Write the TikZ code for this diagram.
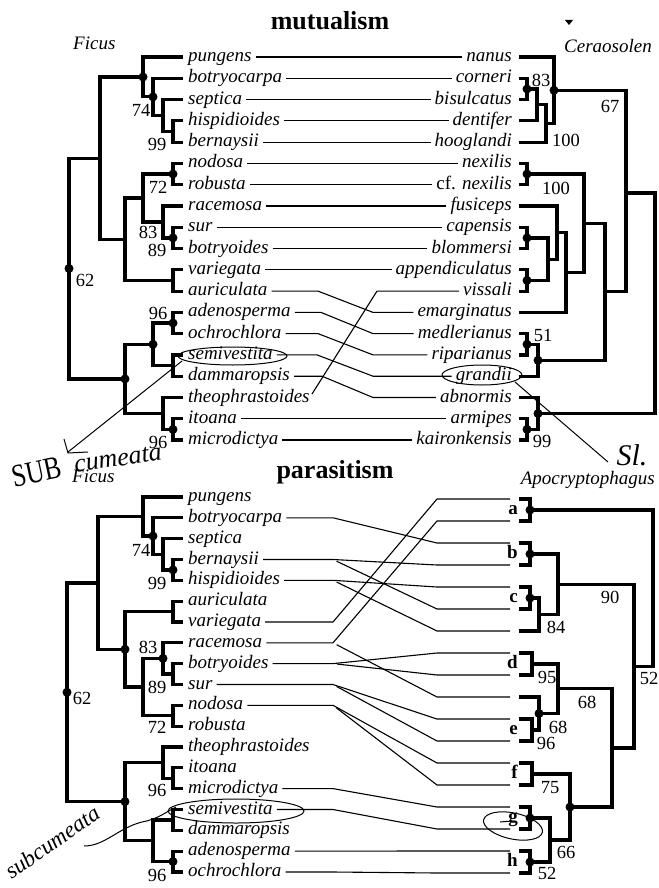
\documentclass[tikz,border=0pt]{standalone}
\usepackage{fontspec}
\setmainfont{Liberation Serif}
\newcommand{\cfnex}{\textup{cf.} nexilis}
\begin{document}
\begin{tikzpicture}[x=1pt,y=-1pt,
  taxon/.style={font=\fontsize{19}{21}\selectfont\itshape, inner sep=0pt, text height=9pt, text depth=0pt},
  lt/.style={taxon, anchor=west},
  rt/.style={taxon, anchor=east},
  bsv/.style={font=\fontsize{18.5}{20}\selectfont, inner sep=0pt, text height=12.5pt, text depth=0pt, anchor=center},
  branch/.style={line width=3.2pt, line join=miter},
  assoc/.style={line width=1.1pt, shorten <=4pt},
  hand/.style={line width=1pt},
  htext/.style={font=\fontsize{26}{28}\selectfont\itshape, inner sep=0pt},
  ttl/.style={font=\fontsize{26}{28}\selectfont\bfseries, anchor=base, inner sep=0pt},
  genus/.style={font=\fontsize{19}{21}\selectfont\itshape, inner sep=0pt},
  clade/.style={font=\fontsize{19}{21}\selectfont\bfseries, inner sep=0pt, anchor=east, text height=9pt, text depth=0pt}
]
\useasboundingbox (0,0) rectangle (658,888);

% ---------------- titles and genera ----------------
\node[ttl] (t1) at (330,30) {mutualism};
\node[ttl] (t2) at (335,478) {parasitism};
\node[genus, anchor=base west] (g1) at (73,50) {Ficus};
\node[genus, anchor=base east] (g2) at (652,53) {Ceraosolen};
\node[genus, anchor=base west] (g3) at (72,482) {Ficus};
\node[genus, anchor=base east] (g4) at (655,484) {Apocryptophagus};
\fill (565,20) -- (573,20) -- (569,25) -- cycle;

% ---------------- mutualism: Ficus ----------------
\foreach \i/\y/\t in {1/57.0/pungens,2/78.3/botryocarpa,3/99.6/septica,4/120.8/hispidioides,5/142.1/bernaysii,6/163.4/nodosa,7/184.7/robusta,8/206.0/racemosa,9/227.2/sur,10/248.5/botryoides,11/269.8/variegata,12/291.1/auriculata,13/312.4/adenosperma,14/333.6/ochrochlora,15/354.9/semivestita,16/376.2/dammaropsis,17/397.5/theophrastoides,18/418.8/itoana,19/440.0/microdictya}
{ \coordinate (ta\i) at (183,\y); \node[lt] (La\i) at (188,\y) {\t}; }

\coordinate (nHB) at (173,131.5);
\coordinate (nSe) at (163,115.5);
\coordinate (nBo) at (153,96.9);
\coordinate (nPu) at (143,77.0);
\coordinate (nNR) at (173,174.0);
\coordinate (nSB) at (173,237.9);
\coordinate (nRa) at (163,222.0);
\coordinate (nNRRa) at (143,198.0);
\coordinate (nVA) at (173,280.4);
\coordinate (nM1) at (125,239.2);
\coordinate (nA1) at (100,158.1);
\coordinate (nAO) at (173,323.0);
\coordinate (nSD) at (173,365.5);
\coordinate (nAS) at (153,344.3);
\coordinate (nIM) at (173,429.4);
\coordinate (nTh) at (163,413.5);
\coordinate (nB1) at (125,378.9);
\coordinate (nRoot) at (69,268.5);

\draw[branch] (nHB) |- (ta4) (nHB) |- (ta5)
  (nSe) |- (ta3) (nSe) |- (nHB)
  (nBo) |- (ta2) (nBo) |- (nSe)
  (nPu) |- (ta1) (nPu) |- (nBo)
  (nA1) |- (nPu) (nA1) |- (nM1)
  (nM1) |- (nNRRa) (nM1) |- (nVA)
  (nNRRa) |- (nNR) (nNRRa) |- (nRa)
  (nNR) |- (ta6) (nNR) |- (ta7)
  (nRa) |- (ta8) (nRa) |- (nSB)
  (nSB) |- (ta9) (nSB) |- (ta10)
  (nVA) |- (ta11) (nVA) |- (ta12)
  (nRoot) |- (nA1) (nRoot) |- (nB1)
  (nB1) |- (nAS) (nB1) |- (nTh)
  (nAS) |- (nAO) (nAS) |- (nSD)
  (nAO) |- (ta13) (nAO) |- (ta14)
  (nSD) |- (ta15) (nSD) |- (ta16)
  (nTh) |- (ta17) (nTh) |- (nIM)
  (nIM) |- (ta18) (nIM) |- (ta19);
\foreach \n in {nPu,nBo,nNR,nSB,nRoot,nAO,nAS,nB1,nIM} \fill (\n) circle[radius=4.5pt];

\node[bsv] (sa1) at (141,110) {74};
\node[bsv] (sa2) at (157,144) {99};
\node[bsv] (sa3) at (158,187) {72};
\node[bsv] (sa4) at (148,232) {83};
\node[bsv] (sa5) at (157,250) {89};
\node[bsv] (sa6) at (85,280) {62};
\node[bsv] (sa7) at (158,313) {96};
\node[bsv] (sa8) at (158,442) {96};

% ---------------- mutualism: Ceratosolen ----------------
\foreach \i/\y/\t in {1/57.0/nanus,2/78.3/corneri,3/99.6/bisulcatus,4/120.8/dentifer,5/142.1/hooglandi,6/163.4/nexilis,7/184.7/\cfnex,8/206.0/fusiceps,9/227.2/capensis,10/248.5/blommersi,11/269.8/appendiculatus,12/291.1/vissali,13/312.4/emarginatus,14/333.6/medlerianus,15/354.9/riparianus,16/376.2/grandii,17/397.5/abnormis,18/418.8/armipes,19/440.0/kaironkensis}
{ \coordinate (tb\i) at (519,\y); \node[rt] (Rb\i) at (512,\y) {\t}; }

\coordinate (rCB) at (527,89.0);
\coordinate (rCBD) at (537,104.9);
\coordinate (rCBDH) at (546,123.5);
\coordinate (rNa) at (554,90.3);
\coordinate (rNx) at (527,174.0);
\coordinate (rCap) at (527,237.9);
\coordinate (rApp) at (527,280.4);
\coordinate (rCA) at (548,259.2);
\coordinate (rFu) at (557,232.6);
\coordinate (rEm) at (566,272.5);
\coordinate (rNxE) at (584,223.3);
\coordinate (rMR) at (527,344.3);
\coordinate (rGr) at (538,360.3);
\coordinate (rMid) at (605,291.8);
\coordinate (rUp) at (626,193);
\coordinate (rAK) at (527,429.4);
\coordinate (rAb) at (538,413.5);
\coordinate (rRoot) at (655,303);

\draw[branch] (rCB) |- (tb2) (rCB) |- (tb3)
  (rCBD) |- (rCB) (rCBD) |- (tb4)
  (rCBDH) |- (rCBD) (rCBDH) |- (tb5)
  (rNa) |- (tb1) (rNa) |- (rCBDH)
  (rUp) |- (rNa) (rUp) |- (rMid)
  (rMid) |- (rNxE) (rMid) |- (rGr)
  (rNxE) |- (rNx) (rNxE) |- (rEm)
  (rNx) |- (tb6) (rNx) |- (tb7)
  (rEm) |- (rFu) (rEm) |- (tb13)
  (rFu) |- (tb8) (rFu) |- (rCA)
  (rCA) |- (rCap) (rCA) |- (rApp)
  (rCap) |- (tb9) (rCap) |- (tb10)
  (rApp) |- (tb11) (rApp) |- (tb12)
  (rGr) |- (rMR) (rGr) |- (tb16)
  (rMR) |- (tb14) (rMR) |- (tb15)
  (rRoot) |- (rUp) (rRoot) |- (rAb)
  (rAb) |- (tb17) (rAb) |- (rAK)
  (rAK) |- (tb18) (rAK) |- (tb19);
\foreach \n in {rCB,rNa,rNx,rCap,rApp,rMR,rGr,rAK,rAb} \fill (\n) circle[radius=4.5pt];

\node[bsv] (sb1) at (541,80) {83};
\node[bsv] (sb2) at (610,106) {67};
\node[bsv] (sb3) at (566,140) {100};
\node[bsv] (sb4) at (556,188) {100};
\node[bsv] (sb5) at (543,335) {51};
\node[bsv] (sb6) at (542,441) {99};

% ---------------- mutualism associations ----------------
\foreach \i in {1,...,11,18,19} \draw[assoc, shorten >=4pt] (La\i.east) -- (Rb\i.west);
\draw[assoc, shorten >=4pt] (La12.east) -- (318,291.1) -- (373,312.4) -- (Rb13.west);
\draw[assoc, shorten >=4pt] (La13.east) -- (321,312.4) -- (373,333.6) -- (Rb14.west);
\draw[assoc, shorten >=4pt] (La14.east) -- (318,333.6) -- (373,354.9) -- (Rb15.west);
\draw[assoc, shorten >=4pt] (La15.east) -- (317,354.9) -- (373,376.2) -- (Rb16.west);
\draw[assoc, shorten >=4pt] (La16.east) -- (322,376.2) -- (373,397.5) -- (Rb17.west);
\draw[assoc, shorten >=4pt] (La17.east) -- (377,291.1) -- (Rb12.west);

% ---------------- parasitism: Ficus ----------------
\foreach \i/\y/\t in {1/497.0/pungens,2/517.8/botryocarpa,3/538.7/septica,4/559.5/bernaysii,5/580.3/hispidioides,6/601.2/auriculata,7/622.0/variegata,8/642.8/racemosa,9/663.6/botryoides,10/684.5/sur,11/705.3/nodosa,12/726.1/robusta,13/747.0/theophrastoides,14/767.8/itoana,15/788.6/microdictya,16/809.5/semivestita,17/830.3/dammaropsis,18/851.1/adenosperma,19/872.0/ochrochlora}
{ \coordinate (tc\i) at (183,\y); \node[lt] (Lc\i) at (188,\y) {\t}; }

\coordinate (bBH) at (173,569.9);
\coordinate (bSe) at (163,554.3);
\coordinate (bBo) at (153,536.0);
\coordinate (bPu) at (143,516.5);
\coordinate (bAV) at (173,611.6);
\coordinate (bBS) at (173,674.0);
\coordinate (bRa) at (163,658.4);
\coordinate (bNR) at (173,715.7);
\coordinate (bRN) at (143,687.0);
\coordinate (bM) at (125,649.3);
\coordinate (bA) at (98,582.9);
\coordinate (bIM) at (173,778.2);
\coordinate (bTh) at (163,762.6);
\coordinate (bSD) at (173,819.9);
\coordinate (bAO) at (173,861.5);
\coordinate (bSA) at (153,840.7);
\coordinate (bB) at (125,801.6);
\coordinate (bRoot) at (67,692.3);

\draw[branch] (bBH) |- (tc4) (bBH) |- (tc5)
  (bSe) |- (tc3) (bSe) |- (bBH)
  (bBo) |- (tc2) (bBo) |- (bSe)
  (bPu) |- (tc1) (bPu) |- (bBo)
  (bA) |- (bPu) (bA) |- (bM)
  (bM) |- (bAV) (bM) |- (bRN)
  (bAV) |- (tc6) (bAV) |- (tc7)
  (bRN) |- (bRa) (bRN) |- (bNR)
  (bRa) |- (tc8) (bRa) |- (bBS)
  (bBS) |- (tc9) (bBS) |- (tc10)
  (bNR) |- (tc11) (bNR) |- (tc12)
  (bRoot) |- (bA) (bRoot) |- (bB)
  (bB) |- (bTh) (bB) |- (bSA)
  (bTh) |- (tc13) (bTh) |- (bIM)
  (bIM) |- (tc14) (bIM) |- (tc15)
  (bSA) |- (bSD) (bSA) |- (bAO)
  (bSD) |- (tc16) (bSD) |- (tc17)
  (bAO) |- (tc18) (bAO) |- (tc19);
\foreach \n in {bBo,bBH,bM,bRa,bRoot,bB,bAO} \fill (\n) circle[radius=4.5pt];

\node[bsv] (sc1) at (141,550) {74};
\node[bsv] (sc2) at (157,583) {99};
\node[bsv] (sc3) at (148,647) {83};
\node[bsv] (sc4) at (157,687) {89};
\node[bsv] (sc5) at (157,727) {72};
\node[bsv] (sc6) at (82,698) {62};
\node[bsv] (sc7) at (157,790) {96};
\node[bsv] (sc8) at (157,875) {96};

% ---------------- parasitism: Apocryptophagus ----------------
\foreach \j/\y in {1/499,2/521,3/543,4/565,5/587,6/609,7/631,8/653,9/675,10/697,11/719,12/741,13/763,14/785,15/807,16/829,17/851,18/873}
{ \coordinate (td\j) at (519,\y); \coordinate (ed\j) at (510,\y); }

\coordinate (pa) at (530,510);
\coordinate (pb) at (530,554);
\coordinate (pc) at (530,598);
\coordinate (pc7) at (539,614.5);
\coordinate (pbc) at (558,584.3);
\coordinate (pd) at (532,664);
\coordinate (pe) at (532,730);
\coordinate (p10e) at (539,713.5);
\coordinate (pde) at (558,688.8);
\coordinate (pf) at (532,774);
\coordinate (pg) at (530,818);
\coordinate (ph) at (530,862);
\coordinate (pgh) at (550,840);
\coordinate (pfgh) at (570,807);
\coordinate (plow) at (612,747.9);
\coordinate (pmid) at (634,666.1);
\coordinate (proot) at (653,588);

\draw[branch] (pa) |- (td1) (pa) |- (td2)
  (pb) |- (td3) (pb) |- (td4)
  (pc) |- (td5) (pc) |- (td6)
  (pc7) |- (pc) (pc7) |- (td7)
  (pbc) |- (pb) (pbc) |- (pc7)
  (pmid) |- (pbc) (pmid) |- (plow)
  (proot) |- (pa) (proot) |- (pmid)
  (pd) |- (td8) (pd) |- (td9)
  (pde) |- (pd) (pde) |- (p10e)
  (p10e) |- (td10) (p10e) |- (pe)
  (pe) |- (td11) (pe) |- (td12)
  (plow) |- (pde) (plow) |- (pfgh)
  (pf) |- (td13) (pf) |- (td14)
  (pfgh) |- (pf) (pfgh) |- (pgh)
  (pgh) |- (pg) (pgh) |- (ph)
  (pg) |- (td15) (pg) |- (td16)
  (ph) |- (td17) (ph) |- (td18);
\foreach \n in {pa,pb,pc,p10e,pfgh,pg,ph} \fill (\n) circle[radius=4.5pt];

\node[clade] (ka) at (518,510) {a};
\node[clade] (kb) at (518,554) {b};
\node[clade] (kc) at (518,598) {c};
\node[clade] (kd) at (518,664) {d};
\node[clade] (ke) at (518,730) {e};
\node[clade] (kf) at (518,774) {f};
\node[clade] (kg) at (518,818) {g};
\node[clade] (kh) at (518,862) {h};

\node[bsv] (sd1) at (556,627) {84};
\node[bsv] (sd2) at (610,597) {90};
\node[bsv] (sd3) at (649,678) {52};
\node[bsv] (sd4) at (547,677) {95};
\node[bsv] (sd5) at (587,702) {68};
\node[bsv] (sd6) at (558,727) {68};
\node[bsv] (sd7) at (546,743) {96};
\node[bsv] (sd8) at (550,787) {75};
\node[bsv] (sd9) at (566,852) {66};
\node[bsv] (sd10) at (547,873) {52};

% ---------------- parasitism associations ----------------
\draw[assoc] (Lc7.east) -- (333,622.0) -- (437,499) -- (ed1);
\draw[assoc] (Lc8.east) -- (333,642.8) -- (437,521) -- (ed2);
\draw[assoc] (Lc2.east) -- (333,517.8) -- (437,543) -- (ed3);
\draw[assoc] (Lc4.east) -- (333,559.5) -- (437,565) -- (ed4);
\draw[assoc] (Lc5.east) -- (333,580.3) -- (437,587) -- (ed5);
\draw[assoc] (333,559.5) -- (437,609) -- (ed6);
\draw[assoc] (333,580.3) -- (437,631) -- (ed7);
\draw[assoc] (Lc9.east) -- (333,663.6) -- (437,653) -- (ed8);
\draw[assoc] (333,663.6) -- (437,675) -- (ed9);
\draw[assoc] (333,642.8) -- (437,697) -- (ed10);
\draw[assoc] (Lc10.east) -- (333,684.5) -- (437,719) -- (ed11);
\draw[assoc] (333,684.5) -- (437,741) -- (ed12);
\draw[assoc] (Lc11.east) -- (333,705.3) -- (437,763) -- (ed13);
\draw[assoc] (333,705.3) -- (437,785) -- (ed14);
\draw[assoc] (Lc15.east) -- (333,788.6) -- (437,807) -- (ed15);
\draw[assoc] (Lc16.east) -- (333,809.5) -- (437,829) -- (ed16);
\draw[assoc] (Lc18.east) -- (333,851.1) -- (437,851) -- (ed17);
\draw[assoc] (Lc19.east) -- (333,872.0) -- (437,873) -- (ed18);

% ---------------- handwritten annotations ----------------
\draw[hand] (232.5,356) ellipse[x radius=54.5pt, y radius=9pt];
\draw[hand] (482,375) ellipse[x radius=40pt, y radius=10pt];
\draw[hand] (182,361) -- (68,452);
\draw[hand] (64,439) -- (68,453) -- (88,452);
\node[rotate=12, xscale=0.8, font=\fontsize{32}{34}\selectfont, inner sep=0pt] (hw1) at (37,472) {SUB};
\node[htext, rotate=8] (hw2) at (118,459) {cumeata};
\draw[hand] (515,382) -- (608,462);
\node[htext, font=\fontsize{30}{32}\selectfont\itshape] (hw3) at (632,455) {Sl.};
\draw[hand] (236,811) ellipse[x radius=68pt, y radius=12pt];
\draw[hand] (84,846) .. controls (105,846) and (118,828) .. (142,822) .. controls (158,819) and (166,812) .. (176,807);
\node[htext, font=\fontsize{23}{25}\selectfont\itshape, rotate=35] (hw4) at (52,842) {subcumeata};
\draw[hand, rotate around={-12:(513,826)}] (513,826) ellipse[x radius=30pt, y radius=13pt];
\draw[hand] (500,822) -- (512,821);
\end{tikzpicture}
\end{document}
